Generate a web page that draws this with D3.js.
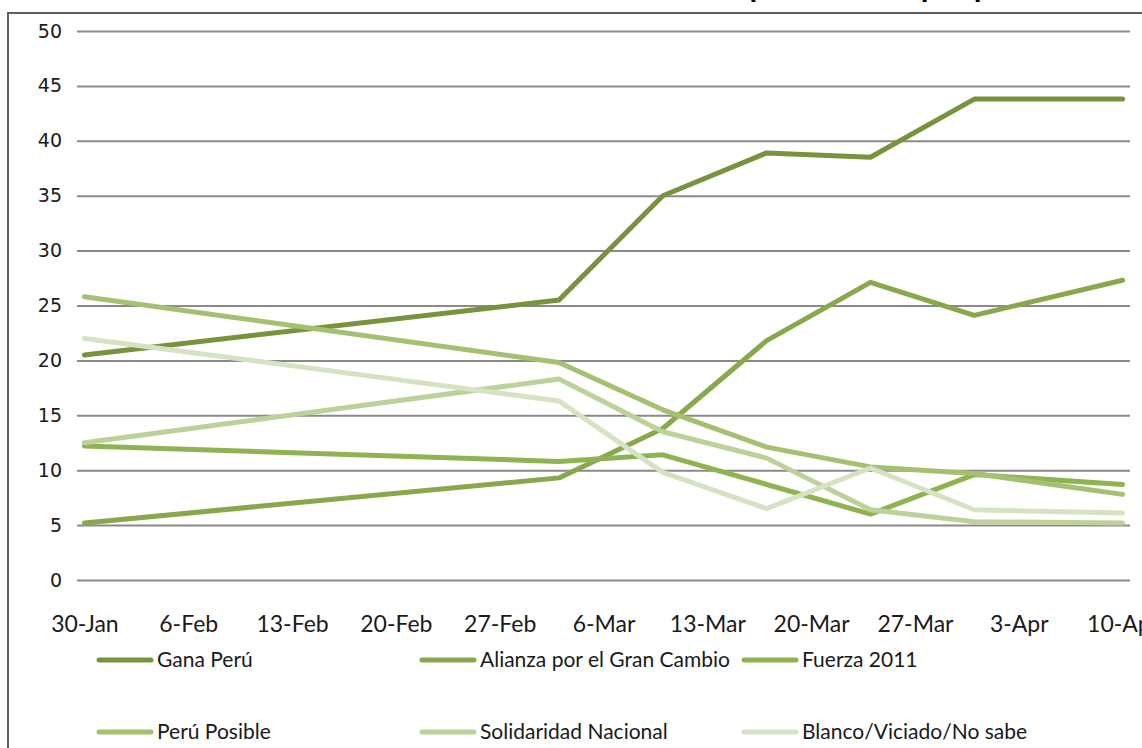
<!DOCTYPE html>
<html>
<head>
<meta charset="utf-8">
<script src="https://cdn.jsdelivr.net/npm/d3@7"></script>
<style>
  body { margin: 0; background: #fff; }
  svg { display: block; }
</style>
</head>
<body>
<svg id="chart" width="1142" height="748"></svg>
<script>
// poll dates (one per survey)
var pollDates = ["2011-01-30", "2011-03-03", "2011-03-10", "2011-03-17", "2011-03-24", "2011-03-31", "2011-04-10"];

// axis ticks
var tickDates = ["2011-01-30", "2011-02-06", "2011-02-13", "2011-02-20", "2011-02-27", "2011-03-06",
                 "2011-03-13", "2011-03-20", "2011-03-27", "2011-04-03", "2011-04-10"];
var tickLabels = ["30-Jan", "6-Feb", "13-Feb", "20-Feb", "27-Feb", "6-Mar", "13-Mar", "20-Mar", "27-Mar", "3-Apr", "10-Apr"];
var yTicks = [0, 5, 10, 15, 20, 25, 30, 35, 40, 45, 50];

// series values (%)
var ganaPeru     = [20.5, 25.5, 35.0, 38.9, 38.5, 43.8, 43.8];
var alianza      = [5.2, 9.3, 13.8, 21.8, 27.1, 24.1, 27.3];
var fuerza2011   = [12.2, 10.8, 11.4, 8.7, 6.0, 9.6, 8.7];
var peruPosible  = [25.8, 19.8, 15.5, 12.1, 10.3, 9.7, 7.8];
var solidaridad  = [12.5, 18.3, 13.5, 11.1, 6.4, 5.3, 5.2];
var blanco       = [22.0, 16.3, 9.8, 6.5, 10.2, 6.4, 6.1];

var seriesNames = ["Gana Perú", "Alianza por el Gran Cambio", "Fuerza 2011",
                   "Perú Posible", "Solidaridad Nacional", "Blanco/Viciado/No sabe"];
var seriesValues = [ganaPeru, alianza, fuerza2011, peruPosible, solidaridad, blanco];
var seriesColors = ["#77933c", "#87a84b", "#8fb351", "#a3c170", "#bcd29a", "#d6e3c3"];

var parse = d3.timeParse("%Y-%m-%d");
var DAY = 24 * 3600 * 1000;

var svg = d3.select("#chart");

// outer chart frame (cut off on the right and bottom like the original)
svg.append("rect")
  .attr("x", 8).attr("y", 13)
  .attr("width", 1300).attr("height", 900)
  .attr("fill", "#fff")
  .attr("stroke", "#5f5f5f")
  .attr("stroke-width", 2);

// title, mostly above the visible area
svg.append("text")
  .attr("x", 510).attr("y", -4)
  .attr("font-family", "Liberation Sans, Arial, sans-serif")
  .attr("font-weight", "bold")
  .attr("font-size", 28)
  .attr("fill", "#000")
  .text("Intención de voto presidencial por partido");

var plot = { left: 77, right: 1130, top: 31, bottom: 580 };

// date axis: each day is a band, points sit in the middle of their day
var x = d3.scaleTime()
  .domain([new Date(parse(tickDates[0]).getTime() - DAY / 2),
           new Date(parse(tickDates[tickDates.length - 1]).getTime() + DAY / 2)])
  .range([plot.left, plot.right]);

var y = d3.scaleLinear()
  .domain([0, 50])
  .range([plot.bottom, plot.top]);

// y axis with gridlines
var yAxis = svg.append("g")
  .attr("transform", "translate(" + plot.left + ",0)")
  .call(d3.axisLeft(y)
    .tickValues(yTicks)
    .tickSize(-(plot.right - plot.left))
    .tickPadding(15));
yAxis.select(".domain").remove();
yAxis.selectAll(".tick line")
  .attr("stroke", "#8a8a8a")
  .attr("stroke-width", 2);
yAxis.selectAll(".tick text")
  .attr("font-family", "DejaVu Sans, Verdana, sans-serif")
  .attr("font-size", 19)
  .attr("fill", "#1a1a1a");

// x axis labels
var xAxis = svg.append("g")
  .attr("transform", "translate(0," + plot.bottom + ")")
  .call(d3.axisBottom(x)
    .tickValues(tickDates.map(parse))
    .tickSize(0)
    .tickPadding(36)
    .tickFormat(function (d, i) { return tickLabels[i]; }));
xAxis.select(".domain").remove();
xAxis.selectAll(".tick text")
  .attr("font-family", "Lato, sans-serif")
  .attr("font-size", 23)
  .attr("fill", "#1a1a1a");

// lines
var line = d3.line()
  .x(function (d, i) { return x(parse(pollDates[i])); })
  .y(function (d) { return y(d); });

svg.append("g")
  .selectAll("path")
  .data(seriesValues)
  .join("path")
    .attr("d", line)
    .attr("fill", "none")
    .attr("stroke", function (d, i) { return seriesColors[i]; })
    .attr("stroke-width", 5)
    .attr("stroke-linejoin", "round")
    .attr("stroke-linecap", "round");

// legend, two rows of three
var legendCols = [97, 420, 742];
var legendRows = [660, 732];

var legend = svg.append("g")
  .selectAll("g")
  .data(seriesNames)
  .join("g")
    .attr("transform", function (d, i) {
      return "translate(" + legendCols[i % 3] + "," + legendRows[Math.floor(i / 3)] + ")";
    });

legend.append("line")
  .attr("x1", 2).attr("x2", 54)
  .attr("y1", 0).attr("y2", 0)
  .attr("stroke", function (d, i) { return seriesColors[i]; })
  .attr("stroke-width", 5)
  .attr("stroke-linecap", "round");

legend.append("text")
  .attr("x", 60)
  .attr("dy", "0.35em")
  .attr("font-family", "Lato, sans-serif")
  .attr("font-size", 21)
  .attr("fill", "#1a1a1a")
  .text(function (d) { return d; });
</script>
</body>
</html>
